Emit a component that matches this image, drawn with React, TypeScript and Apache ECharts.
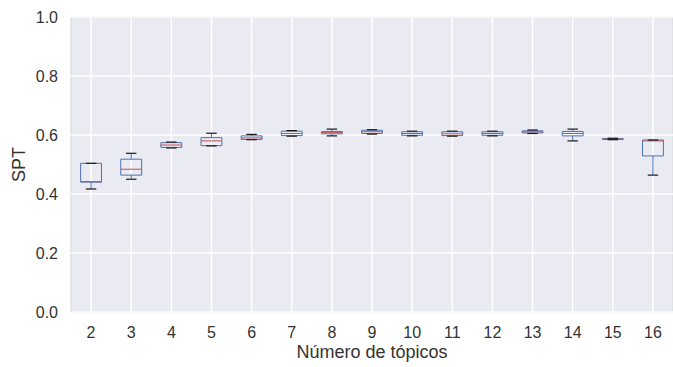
import React, { useEffect, useRef } from "react";
import * as echarts from "echarts";

const categories = ["2", "3", "4", "5", "6", "7", "8", "9", "10", "11", "12", "13", "14", "15", "16"];
const mins = [0.417, 0.45, 0.556, 0.563, 0.584, 0.596, 0.597, 0.603, 0.597, 0.596, 0.597, 0.605, 0.58, 0.584, 0.464];
const q1s = [0.44, 0.464, 0.558, 0.564, 0.585, 0.598, 0.604, 0.605, 0.599, 0.598, 0.599, 0.607, 0.597, 0.585, 0.529];
const medians = [0.442, 0.484, 0.566, 0.58, 0.59, 0.605, 0.608, 0.611, 0.605, 0.604, 0.605, 0.611, 0.605, 0.586, 0.58];
const q3s = [0.504, 0.518, 0.574, 0.591, 0.597, 0.613, 0.612, 0.616, 0.611, 0.611, 0.611, 0.614, 0.612, 0.588, 0.583];
const maxs = [0.504, 0.538, 0.576, 0.606, 0.602, 0.615, 0.62, 0.618, 0.613, 0.613, 0.613, 0.617, 0.62, 0.589, 0.583];

const BOX = "#4C72B0";
const MED = "#C44E52";
const CAP = "#1a1a1a";

export default function App() {
  const ref = useRef<HTMLDivElement>(null);
  useEffect(() => {
    if (!ref.current) return;
    const chart = echarts.init(ref.current, null, { renderer: "svg" });
    const data = categories.map((c, i) => [i, mins[i], q1s[i], medians[i], q3s[i], maxs[i]]);
    chart.setOption({
      animation: false,
      textStyle: { fontFamily: "Liberation Sans, Arial, sans-serif" },
      grid: {
        left: 71,
        top: 17,
        width: 608,
        height: 295,
        show: true,
        backgroundColor: "#EAEAF2",
        borderColor: "#d6d6dc",
        borderWidth: 1,
      },
      xAxis: {
        type: "category",
        data: categories,
        boundaryGap: true,
        axisLine: { show: false },
        axisTick: { show: false },
        splitLine: { show: false },
        axisLabel: { color: "#333", fontSize: 16, margin: 12 },
        name: "Número de tópicos",
        nameLocation: "middle",
        nameGap: 31,
        nameMoveOverlap: false,
        nameTextStyle: { color: "#333", fontSize: 18 },
      },
      yAxis: {
        type: "value",
        min: 0,
        max: 1,
        interval: 0.2,
        axisLine: { show: false },
        axisTick: { show: false },
        splitLine: { show: true, lineStyle: { color: "#ffffff", width: 1.5 } },
        axisLabel: {
          color: "#333",
          fontSize: 16,
          margin: 13,
          formatter: (v: number) => v.toFixed(1),
        },
        name: "SPT",
        nameLocation: "middle",
        nameGap: 43,
        nameMoveOverlap: false,
        nameTextStyle: { color: "#333", fontSize: 18 },
      },
      series: [
        {
          type: "custom",
          data,
          clip: false,
          renderItem: (params: any, api: any) => {
            const idx = api.value(0);
            const pMin = api.coord([idx, api.value(1)]);
            const pQ1 = api.coord([idx, api.value(2)]);
            const pMed = api.coord([idx, api.value(3)]);
            const pQ3 = api.coord([idx, api.value(4)]);
            const pMax = api.coord([idx, api.value(5)]);
            const top = api.coord([idx, 1]);
            const bottom = api.coord([idx, 0]);
            const band = api.size([1, 0])[0];
            const bw = band * 0.52;
            const cw = bw / 2;
            const x = pQ1[0];
            return {
              type: "group",
              children: [
                {
                  type: "line",
                  shape: { x1: x, y1: top[1], x2: x, y2: bottom[1] },
                  style: { stroke: "#ffffff", lineWidth: 1.5 },
                },
                {
                  type: "line",
                  shape: { x1: x, y1: pQ3[1], x2: x, y2: pMax[1] },
                  style: { stroke: BOX, lineWidth: 1 },
                },
                {
                  type: "line",
                  shape: { x1: x, y1: pQ1[1], x2: x, y2: pMin[1] },
                  style: { stroke: BOX, lineWidth: 1 },
                },
                {
                  type: "rect",
                  shape: { x: x - bw / 2, y: pQ3[1], width: bw, height: pQ1[1] - pQ3[1] },
                  style: { fill: "rgba(0,0,0,0)", stroke: BOX, lineWidth: 1 },
                },
                {
                  type: "line",
                  shape: { x1: x - bw / 2, y1: pMed[1], x2: x + bw / 2, y2: pMed[1] },
                  style: { stroke: MED, lineWidth: 1 },
                },
                {
                  type: "line",
                  shape: { x1: x - cw / 2, y1: pMax[1], x2: x + cw / 2, y2: pMax[1] },
                  style: { stroke: CAP, lineWidth: 1.2 },
                },
                {
                  type: "line",
                  shape: { x1: x - cw / 2, y1: pMin[1], x2: x + cw / 2, y2: pMin[1] },
                  style: { stroke: CAP, lineWidth: 1.2 },
                },
              ],
            };
          },
        },
      ],
    });
    return () => chart.dispose();
  }, []);
  return (
    <div
      ref={ref}
      style={{ position: "absolute", left: 0, top: 0, width: 673, height: 367, background: "#ffffff" }}
    />
  );
}
